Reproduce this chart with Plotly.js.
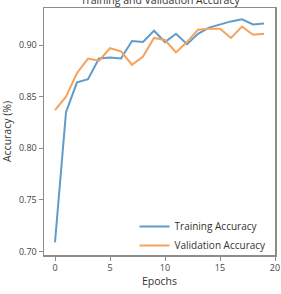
<!DOCTYPE html>
<html>
<head>
<meta charset="utf-8">
<script src="https://cdn.plot.ly/plotly-3.0.1.min.js"></script>
<style>html,body{margin:0;padding:0;background:#fff;}#chart{width:281px;height:294px;}</style>
</head>
<body>
<div id="chart"></div>
<script>
const epochs = [0,1,2,3,4,5,6,7,8,9,10,11,12,13,14,15,16,17,18,19];
const trainingAccuracy = [0.709,0.835,0.864,0.867,0.887,0.888,0.887,0.904,0.903,0.914,0.903,0.911,0.901,0.911,0.917,0.920,0.923,0.925,0.920,0.921];
const validationAccuracy = [0.837,0.850,0.873,0.887,0.885,0.897,0.894,0.881,0.889,0.907,0.905,0.893,0.903,0.915,0.916,0.916,0.907,0.918,0.910,0.911];
const yTicks = [0.70,0.75,0.80,0.85,0.90];
const yTickLabels = ["0.70","0.75","0.80","0.85","0.90"];
const xTicks = [0,5,10,15,20];
const xTickLabels = ["0","5","10","15","20"];

const fontFam = "'Open Sans', 'DejaVu Sans', sans-serif";
const traces = [
  {x: epochs, y: trainingAccuracy, mode: 'lines', name: 'Training Accuracy',
   line: {color: '#5f9bcb', width: 2}},
  {x: epochs, y: validationAccuracy, mode: 'lines', name: 'Validation Accuracy',
   line: {color: '#f5a35a', width: 2}}
];
const axisCommon = {
  showgrid: false, zeroline: false, showline: true, mirror: true,
  linecolor: '#8c8c8c', linewidth: 1.5, ticks: 'outside', ticklen: 4,
  tickcolor: '#8c8c8c', tickfont: {family: fontFam, size: 9, color: '#444'}
};
const layout = {
  width: 281, height: 294,
  margin: {l: 44, r: 6, t: 8, b: 39},
  paper_bgcolor: '#fff', plot_bgcolor: '#fff',
  title: {text: 'Training and Validation Accuracy', font: {family: fontFam, size: 10.5, color: '#333'},
          x: 0.57, xanchor: 'center', y: 1.0, yref: 'container', yanchor: 'middle'},
  xaxis: Object.assign({}, axisCommon, {range: [-1, 20], tickvals: xTicks, ticktext: xTickLabels,
    title: {text: 'Epochs', font: {family: fontFam, size: 10.5, color: '#333'}, standoff: 0}}),
  yaxis: Object.assign({}, axisCommon, {range: [0.6966, 0.936], tickvals: yTicks, ticktext: yTickLabels,
    title: {text: 'Accuracy (%)', font: {family: fontFam, size: 10.5, color: '#333'}, standoff: 5}}),
  showlegend: true,
  legend: {x: 0.985, xanchor: 'right', y: -0.02, yanchor: 'bottom', bgcolor: 'rgba(255,255,255,0)',
           font: {family: fontFam, size: 10, color: '#333'}, tracegroupgap: 0}
};
Plotly.newPlot('chart', traces, layout, {displayModeBar: false, staticPlot: true});
</script>
</body>
</html>
